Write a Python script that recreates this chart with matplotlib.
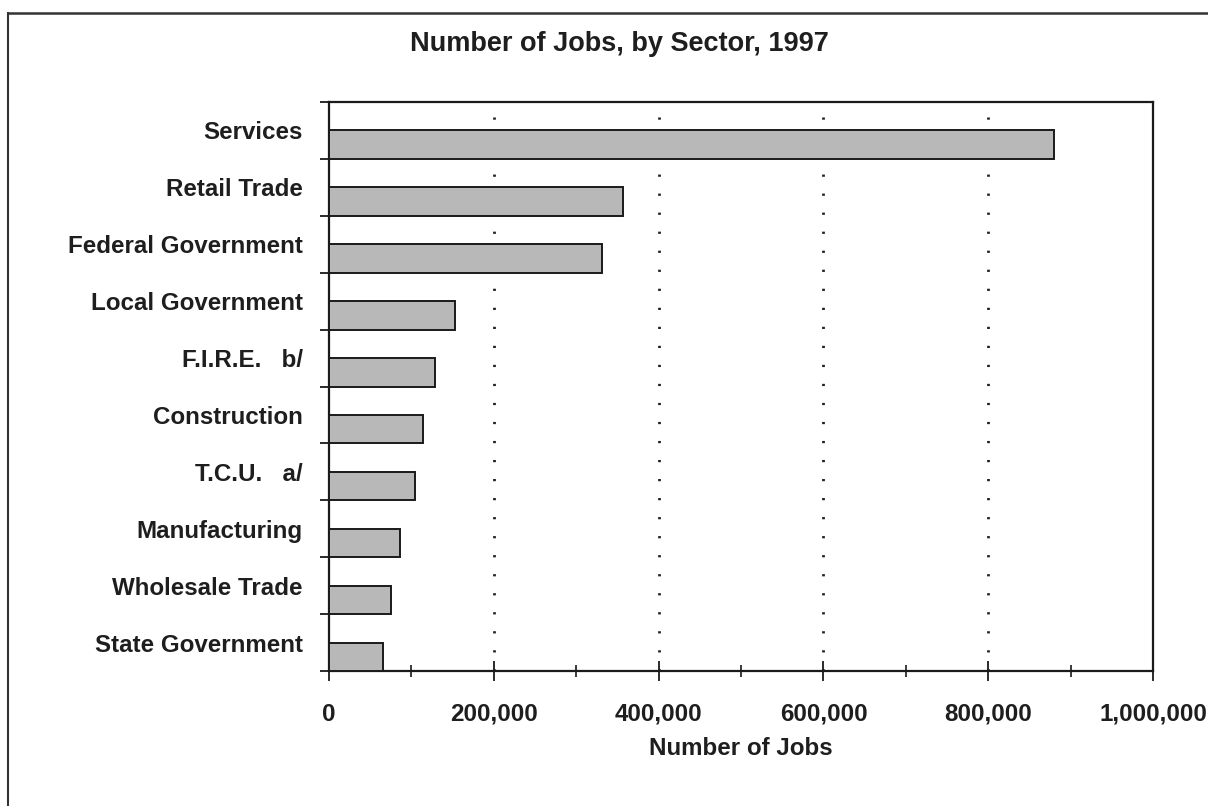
import matplotlib
matplotlib.use("Agg")
import matplotlib.pyplot as plt
from matplotlib.lines import Line2D
from matplotlib.ticker import FuncFormatter, MultipleLocator, FixedLocator

# Data (top to bottom as shown)
sectors = ["Services", "Retail Trade", "Federal Government", "Local Government",
           "F.I.R.E.   b/", "Construction", "T.C.U.   a/", "Manufacturing",
           "Wholesale Trade", "State Government"]
jobs = [880000, 357000, 331000, 153000, 128000, 114000, 104500, 86000, 75700, 66000]
x_ticks = [0, 200000, 400000, 600000, 800000, 1000000]

plt.rcParams['font.family'] = ['Liberation Sans', 'DejaVu Sans']
plt.rcParams['font.weight'] = 'bold'
txt = '#1e1e1e'

fig = plt.figure(figsize=(12.08, 8.06), dpi=100)
ax = fig.add_axes([0.2724, 0.1675, 0.9545 - 0.2724, 0.8734 - 0.1675])

n = len(sectors)
ypos = [n - 1 - i for i in range(n)]
ax.barh(ypos, jobs, height=0.5, align='edge', color='#b8b8b8',
        edgecolor='#1a1a1a', linewidth=1.4, zorder=3)

ax.set_xlim(0, 1000000)
ax.set_ylim(0, n)

# y labels centered in category slots, boundary ticks as minor
ax.set_yticks([p + 0.5 for p in ypos])
ax.set_yticklabels(sectors, fontsize=17.4, fontweight='bold', color=txt)
ax.yaxis.set_minor_locator(FixedLocator(list(range(n + 1))))
ax.tick_params(axis='y', which='major', length=0, pad=19)
ax.tick_params(axis='y', which='minor', length=6.5, width=1.3, direction='out', color='#1a1a1a')

ax.xaxis.set_major_locator(FixedLocator(x_ticks))
ax.xaxis.set_minor_locator(MultipleLocator(100000))
ax.xaxis.set_major_formatter(FuncFormatter(lambda v, p: f"{int(v):,}"))
ax.tick_params(axis='x', which='major', length=14, width=1.3, direction='inout',
               pad=16, labelsize=17.4, labelcolor=txt, color='#1a1a1a')
ax.tick_params(axis='x', which='minor', length=9, width=1.2, direction='inout', color='#1a1a1a')
for lab in ax.get_xticklabels():
    lab.set_fontweight('bold')

ax.set_xlabel("Number of Jobs", fontsize=17.4, fontweight='bold', color=txt, labelpad=8)

# dotted vertical grid
for gx in x_ticks[1:-1]:
    ax.axvline(gx, color='#222222', linewidth=2.0, linestyle=(0, (0.8, 6.05)), zorder=1)

for s in ax.spines.values():
    s.set_linewidth(1.6)
    s.set_color('#1a1a1a')

fig.text(0.513, 0.945, "Number of Jobs, by Sector, 1997", ha='center', va='center',
         fontsize=19.5, fontweight='bold', color=txt)

# outer frame (left and top)
fig.add_artist(Line2D([8 / 1208, 8 / 1208], [0, 1 - 13 / 806], transform=fig.transFigure,
                      color='#333333', linewidth=1.5))
fig.add_artist(Line2D([8 / 1208, 1], [1 - 13 / 806, 1 - 13 / 806], transform=fig.transFigure,
                      color='#333333', linewidth=1.8))

fig.savefig("out.png", dpi=100, facecolor='white')
